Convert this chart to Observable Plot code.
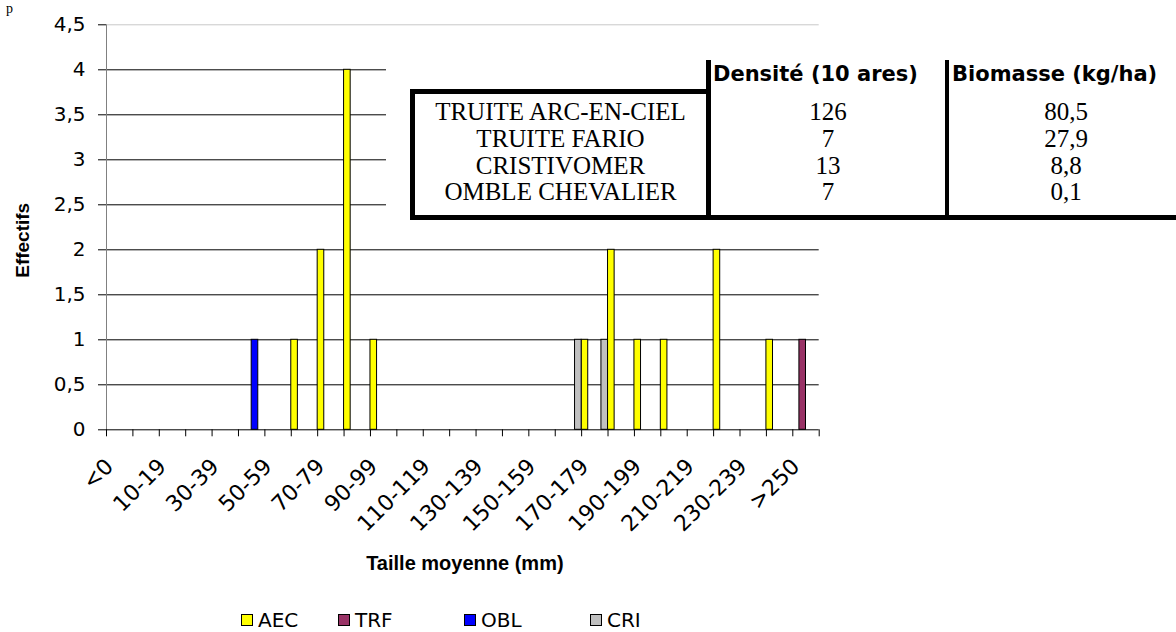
<!DOCTYPE html>
<html>
<head>
<meta charset="utf-8">
<script src="https://cdn.jsdelivr.net/npm/d3@7"></script>
<script src="https://cdn.jsdelivr.net/npm/@observablehq/plot@0.6"></script>
<style>
  html, body { margin: 0; padding: 0; background: white; }
  #wrap { position: relative; width: 1176px; height: 632px; overflow: hidden; background: white; }
  #chart { position: absolute; left: 0; top: 0; }
  .abs { position: absolute; }
  .line { position: absolute; background: black; }
  .serif { font-family: "Liberation Serif", "Times New Roman", serif; font-size: 25px; color: black; white-space: nowrap; line-height: 1; }
  .hdr { font-family: "DejaVu Sans", sans-serif; font-weight: bold; font-size: 21px; color: black; white-space: nowrap; line-height: 1; }
  .leg { font-family: "DejaVu Sans", sans-serif; font-size: 20px; color: black; white-space: nowrap; line-height: 1; }
</style>
</head>
<body>
<div id="wrap">
  <div id="chart"></div>
</div>
<script>
// ---- data ----
const categories = ["<0","0-9","10-19","20-29","30-39","40-49","50-59","60-69","70-79","80-89","90-99",
  "100-109","110-119","120-129","130-139","140-149","150-159","160-169","170-179","180-189","190-199",
  "200-209","210-219","220-229","230-239","240-249",">250"];
const AEC = [0,0,0,0,0,0,0,1,2,4,1,0,0,0,0,0,0,0,1,2,1,1,0,2,0,1,0];
const TRF = [0,0,0,0,0,0,0,0,0,0,0,0,0,0,0,0,0,0,0,0,0,0,0,0,0,0,1];
const OBL = [0,0,0,0,0,1,0,0,0,0,0,0,0,0,0,0,0,0,0,0,0,0,0,0,0,0,0];
const CRI = [0,0,0,0,0,0,0,0,0,0,0,0,0,0,0,0,0,1,1,0,0,0,0,0,0,0,0];
const seriesNames = ["AEC","TRF","OBL","CRI"];
const seriesColors = ["#FFFF00","#993366","#0000FF","#C0C0C0"];
const yTicks = [0,0.5,1,1.5,2,2.5,3,3.5,4,4.5];
const xTitle = "Taille moyenne (mm)";
const yTitle = "Effectifs";

const species = ["TRUITE ARC-EN-CIEL","TRUITE FARIO","CRISTIVOMER","OMBLE CHEVALIER"];
const densite = ["126","7","13","7"];
const biomasse = ["80,5","27,9","8,8","0,1"];
const tableHeaders = ["Densité (10 ares)","Biomasse (kg/ha)"];

// ---- build rows ----
const seriesValues = [AEC, TRF, OBL, CRI];
const nSeries = seriesNames.length;
const rows = [];
seriesValues.forEach((vals, k) => {
  vals.forEach((v, i) => {
    if (v > 0) rows.push({series: seriesNames[k], k, i, cat: categories[i], value: v});
  });
});
const boundaries = d3.range(0, categories.length + 1);
const labelTicks = categories.map((c, i) => i).filter(i => i % 2 === 0).map(i => i + 0.5);
const fmt = v => String(v).replace(".", ",");

const plot = Plot.plot({
  width: 1176,
  height: 610,
  marginLeft: 106,
  marginRight: 357.3,
  marginTop: 24.3,
  marginBottom: 180.7,
  x: {type: "linear", domain: [0, categories.length], axis: null},
  y: {domain: [0, 4.5], axis: null},
  color: {domain: seriesNames, range: seriesColors},
  style: {fontFamily: "DejaVu Sans, sans-serif", fontSize: "20px", color: "black", background: "white", overflow: "visible"},
  marks: [
    Plot.ruleY(yTicks.filter(v => v > 0 && v < 4.5), {stroke: "black", strokeWidth: 1}),
    Plot.ruleY([4.5], {stroke: "#c8c8c8", strokeWidth: 1}),
    Plot.axisY({ticks: yTicks, tickSize: 8, tickPadding: 13, tickFormat: fmt, fontSize: 20, label: null, stroke: "black"}),
    Plot.rectY(rows, {
      x1: d => d.i + d.k / nSeries,
      x2: d => d.i + (d.k + 1) / nSeries,
      y1: 0,
      y2: "value",
      fill: "series",
      stroke: "black",
      strokeWidth: 1
    }),
    Plot.ruleX([0], {stroke: "#808080", strokeWidth: 1}),
    Plot.ruleY([0], {stroke: "black", strokeWidth: 1}),
    Plot.axisX({ticks: boundaries, tickSize: 7, tickFormat: () => "", label: null}),
    Plot.axisX({ticks: labelTicks, tickSize: 0, tickPadding: 33, tickRotate: -45, dx: -10,
      tickFormat: v => categories[Math.floor(v)], fontSize: 22, label: null}),
    Plot.text([xTitle], {frameAnchor: "bottom", dy: 140, dx: 2, fontWeight: "bold", fontSize: 20,
      fontFamily: "Liberation Sans, Arial, sans-serif", text: d => d}),
    Plot.text([yTitle], {frameAnchor: "left", rotate: -90, dx: -84, dy: 13, textAnchor: "middle",
      fontWeight: "bold", fontSize: 19, fontFamily: "Liberation Sans, Arial, sans-serif", text: d => d})
  ]
});
document.getElementById("chart").appendChild(plot);

// ---- overlay: summary table ----
const wrap = document.getElementById("wrap");
function add(cls, css, text) {
  const el = document.createElement("div");
  el.className = cls;
  Object.assign(el.style, css);
  if (text != null) el.textContent = text;
  wrap.appendChild(el);
  return el;
}
// white backing of the pasted table
add("abs", {left: "386px", top: "56px", width: "790px", height: "166px", background: "white"});
// borders
add("line", {left: "410px", top: "89px", width: "301px", height: "5px"});
add("line", {left: "410px", top: "89px", width: "5px", height: "131px"});
add("line", {left: "410px", top: "215px", width: "766px", height: "5px"});
add("line", {left: "706px", top: "60px", width: "5px", height: "160px"});
add("line", {left: "945px", top: "60px", width: "4px", height: "160px"});
// headers
add("abs hdr", {left: "713px", top: "64px"}, tableHeaders[0]);
add("abs hdr", {left: "952px", top: "64px"}, tableHeaders[1]);
// rows
const rowTops = [99, 126, 153, 179];
species.forEach((s, r) => {
  add("abs serif", {left: "415px", width: "291px", textAlign: "center", top: rowTops[r] + "px"}, s);
  add("abs serif", {left: "711px", width: "234px", textAlign: "center", top: rowTops[r] + "px"}, densite[r]);
  add("abs serif", {left: "949px", width: "234px", textAlign: "center", top: rowTops[r] + "px"}, biomasse[r]);
});

// stray glyph at top-left of the original page
add("abs serif", {left: "6px", top: "1px", fontSize: "14px", lineHeight: "16px"}, "p");

// ---- legend (below the SVG) ----
const legX = [241, 338, 464, 590];
seriesNames.forEach((name, k) => {
  add("abs", {left: legX[k] + "px", top: "614px", width: "10px", height: "10px",
    background: seriesColors[k], border: "1px solid black"});
  add("abs leg", {left: (legX[k] + 17) + "px", top: "610px"}, name);
});
</script>
</body>
</html>
